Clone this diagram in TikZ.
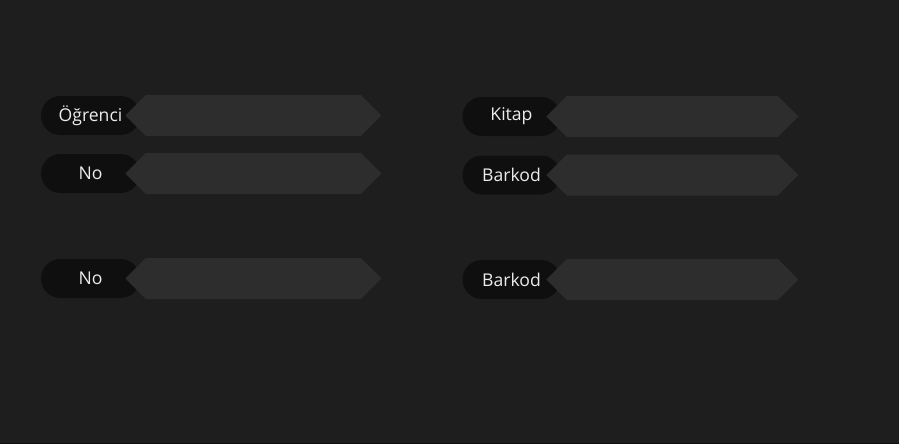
\documentclass[tikz,border=0pt]{standalone}
\usepackage{fontspec}
\setmainfont{Open Sans}
\usetikzlibrary{positioning,shapes.symbols}

\definecolor{bgdark}{HTML}{1E1E1E}
\definecolor{pilldark}{HTML}{0F0F0F}
\definecolor{boxgray}{HTML}{2D2D2D}
\definecolor{labeltext}{HTML}{ECECEC}

\tikzset{
  pill/.style={fill=pilldark, rounded corners=19.5pt, minimum height=39pt,
    inner sep=0pt, text=labeltext, font=\fontsize{17.6}{20}\selectfont},
  inbox/.style={fill=boxgray, shape=signal, signal to=east and west,
    minimum height=41pt, inner sep=0pt},
}

\begin{document}
\begin{tikzpicture}[x=1pt,y=-1pt]

      \fill[bgdark] (0,0) rectangle (899,444);
      \useasboundingbox (0,0) rectangle (899,444);
      \fill[pilldark] (0,443) rectangle (899,444);

      % left column
      \begin{scope}[every node/.style={pill, minimum width=99pt}]
        \node (ogr)  at (90.5,115.5) {Öğrenci};
        \node (no)   at (90.5,173.5) {No};
        \node (no2)  at (90.5,278.5) {No};
      \end{scope}

      \begin{scope}[every node/.style={inbox, minimum width=256pt}]
        \node (ogrbox) [right=-15pt of ogr] {};
        \node (nobox)  [right=-15pt of no]  {};
        \node (no2box) [right=-15pt of no2] {};
      \end{scope}

      % right column
      \begin{scope}[every node/.style={pill, minimum width=98pt}]
        \node (kitap)  at (511.5,116.5) {Kitap\strut};
        \node (bark)   at (511.5,175)   {Barkod};
        \node (bark2)  at (511.5,279.5) {Barkod};
      \end{scope}

      \begin{scope}[every node/.style={inbox, minimum width=252pt}]
        \node (kitapbox) [right=-14.5pt of kitap] {};
        \node (barkbox)  [right=-14.5pt of bark]  {};
        \node (bark2box) [right=-14.5pt of bark2] {};
      \end{scope}

    \end{tikzpicture}
\end{document}
